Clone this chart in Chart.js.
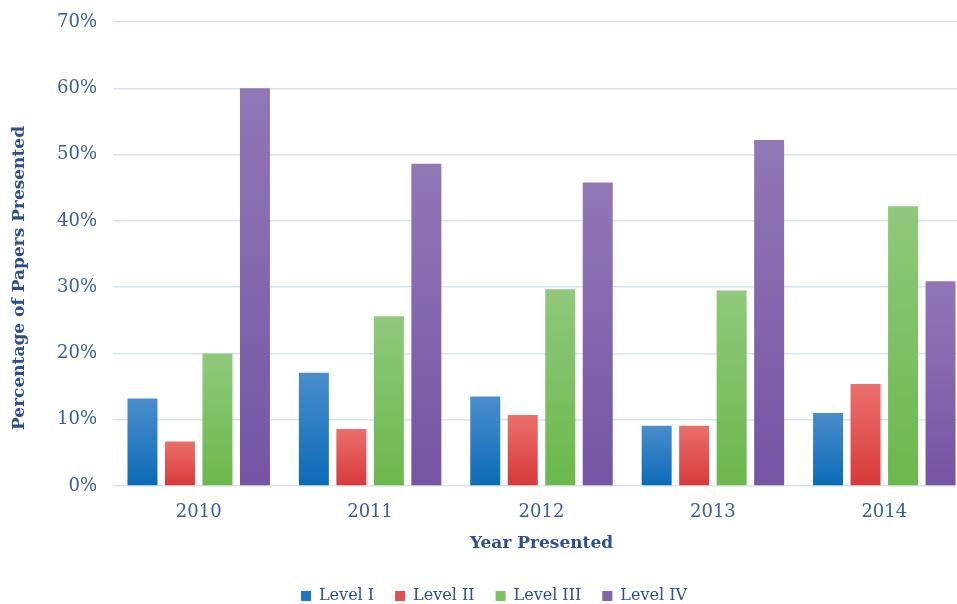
<!DOCTYPE html>
<html>
<head>
<meta charset="utf-8">
<script src="https://cdn.jsdelivr.net/npm/chart.js@4.4.1/dist/chart.umd.min.js"></script>
<style>
  html, body { margin: 0; padding: 0; overflow: hidden; background: #fff; }
  #wrap { width: 988px; height: 604px; overflow: hidden; }
</style>
</head>
<body>
<div id="wrap"><canvas id="myChart" width="988" height="614"></canvas></div>
<script>
var years = ['2010', '2011', '2012', '2013', '2014'];
var level1 = [13.2, 17.1, 13.5, 9.1, 11.0];
var level2 = [6.7, 8.6, 10.7, 9.1, 15.4];
var level3 = [20.0, 25.6, 29.7, 29.5, 42.2];
var level4 = [60.0, 48.6, 45.8, 52.2, 30.9];

var textBlue = '#3a5d9a';
var titleBlue = '#2d4f8e';
var serif = "'DejaVu Serif', serif";

// vertical gradient for each bar, lighter at the top
function barFill(top, bottom) {
  return function (c) {
    var chart = c.chart;
    if (!chart.chartArea || !chart.scales.y || c.parsed === undefined) return bottom;
    var y = chart.scales.y;
    var y0 = y.getPixelForValue(c.parsed.y);
    var y1 = y.getPixelForValue(0);
    if (!isFinite(y0) || !isFinite(y1) || y0 === y1) return bottom;
    var g = chart.ctx.createLinearGradient(0, y0, 0, y1);
    g.addColorStop(0, top);
    g.addColorStop(1, bottom);
    return g;
  };
}

// rotated y axis title, sitting a bit below the middle of the plot
var yTitle = {
  id: 'yTitle',
  afterDraw: function (chart) {
    var a = chart.chartArea;
    var c = chart.ctx;
    c.save();
    c.translate(20, (a.top + a.bottom) / 2 + 24);
    c.rotate(-Math.PI / 2);
    c.textAlign = 'center';
    c.textBaseline = 'middle';
    c.fillStyle = titleBlue;
    c.font = 'bold 17px ' + serif;
    c.fillText('Percentage of Papers Presented', 0, 0);
    c.restore();
  }
};

var ctx = document.getElementById('myChart').getContext('2d');
var myChart = new Chart(ctx, {
  type: 'bar',
  data: {
    labels: years,
    datasets: [
      { label: 'Level I', data: level1, backgroundColor: barFill('#4a8dcd', '#0b6bb6') },
      { label: 'Level II', data: level2, backgroundColor: barFill('#ea6f6c', '#d8393a') },
      { label: 'Level III', data: level3, backgroundColor: barFill('#8fc97c', '#6bb84b') },
      { label: 'Level IV', data: level4, backgroundColor: barFill('#9277b7', '#7454a3') }
    ]
  },
  plugins: [yTitle],
  options: {
    responsive: false,
    animation: false,
    categoryPercentage: 0.875,
    barPercentage: 0.8,
    layout: { padding: { top: 22, left: 18, right: 18, bottom: 0 } },
    plugins: {
      tooltip: { enabled: false },
      legend: {
        position: 'bottom',
        labels: {
          boxWidth: 10,
          boxHeight: 10,
          padding: 21,
          color: titleBlue,
          font: { family: serif, size: 16 },
          generateLabels: function (chart) {
            var cols = ['#1c77c3', '#e0504f', '#7cc160', '#8264ac'];
            return chart.data.datasets.map(function (d, i) {
              return { text: d.label, fillStyle: cols[i], strokeStyle: cols[i], lineWidth: 0, datasetIndex: i, fontColor: titleBlue };
            });
          }
        }
      }
    },
    scales: {
      x: {
        grid: { display: false },
        border: { display: false },
        ticks: { color: textBlue, font: { family: serif, size: 18 }, padding: 8 },
        title: {
          display: true,
          text: 'Year Presented',
          color: titleBlue,
          font: { family: serif, size: 17, weight: 'bold' },
          padding: { top: 2, bottom: 13 }
        }
      },
      y: {
        min: 0,
        max: 70,
        // room on the left for the rotated title; top set by layout padding
        afterFit: function (s) { s.width += 23; s.paddingTop = 0; },
        grid: { color: '#d4e4f4', lineWidth: 1.5, drawTicks: false },
        border: { display: false },
        ticks: {
          stepSize: 10,
          color: textBlue,
          padding: 16,
          font: { family: serif, size: 18 },
          callback: function (v) { return v + '%'; }
        }
      }
    }
  }
});
</script>
</body>
</html>
